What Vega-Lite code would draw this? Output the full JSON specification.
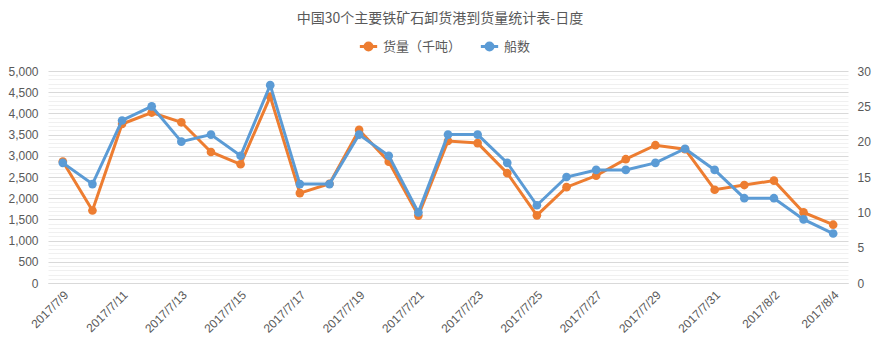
{
  "$schema": "https://vega.github.io/schema/vega-lite/v6.json",
  "autosize": "none",
  "width": 800,
  "height": 212,
  "padding": {"left": 48, "top": 71, "right": 36, "bottom": 70},
  "background": "white",
  "config": {
    "view": {"stroke": null},
    "font": "Noto Sans CJK SC",
    "axis": {"labelFont": "Liberation Sans", "labelFontSize": 12, "labelColor": "#595959"}
  },
  "title": {
    "text": "中国30个主要铁矿石卸货港到货量统计表-日度",
    "font": "Noto Sans CJK SC",
    "fontSize": 14,
    "fontWeight": "normal",
    "color": "#595959",
    "offset": 10,
    "dx": -8
  },
  "data": {
    "values": [
      {"date": "2017/7/9", "cargo": 2865, "ships": 17},
      {"date": "2017/7/10", "cargo": 1710, "ships": 14},
      {"date": "2017/7/11", "cargo": 3750, "ships": 23},
      {"date": "2017/7/12", "cargo": 4020, "ships": 25},
      {"date": "2017/7/13", "cargo": 3790, "ships": 20},
      {"date": "2017/7/14", "cargo": 3090, "ships": 21},
      {"date": "2017/7/15", "cargo": 2800, "ships": 18},
      {"date": "2017/7/16", "cargo": 4395, "ships": 28},
      {"date": "2017/7/17", "cargo": 2120, "ships": 14},
      {"date": "2017/7/18", "cargo": 2340, "ships": 14},
      {"date": "2017/7/19", "cargo": 3610, "ships": 21},
      {"date": "2017/7/20", "cargo": 2860, "ships": 18},
      {"date": "2017/7/21", "cargo": 1590, "ships": 10},
      {"date": "2017/7/22", "cargo": 3350, "ships": 21},
      {"date": "2017/7/23", "cargo": 3300, "ships": 21},
      {"date": "2017/7/24", "cargo": 2590, "ships": 17},
      {"date": "2017/7/25", "cargo": 1595, "ships": 11},
      {"date": "2017/7/26", "cargo": 2260, "ships": 15},
      {"date": "2017/7/27", "cargo": 2530, "ships": 16},
      {"date": "2017/7/28", "cargo": 2920, "ships": 16},
      {"date": "2017/7/29", "cargo": 3250, "ships": 17},
      {"date": "2017/7/30", "cargo": 3155, "ships": 19},
      {"date": "2017/7/31", "cargo": 2200, "ships": 16},
      {"date": "2017/8/1", "cargo": 2310, "ships": 12},
      {"date": "2017/8/2", "cargo": 2415, "ships": 12},
      {"date": "2017/8/3", "cargo": 1665, "ships": 9},
      {"date": "2017/8/4", "cargo": 1375, "ships": 7}
    ]
  },
  "encoding": {
    "x": {
      "field": "date",
      "type": "ordinal",
      "sort": null,
      "scale": {"type": "band", "paddingInner": 0, "paddingOuter": 0},
      "axis": {
        "title": null,
        "values": ["2017/7/9", "2017/7/11", "2017/7/13", "2017/7/15", "2017/7/17", "2017/7/19", "2017/7/21", "2017/7/23", "2017/7/25", "2017/7/27", "2017/7/29", "2017/7/31", "2017/8/2", "2017/8/4"],
        "labelAngle": -45,
        "labelPadding": 6,
        "ticks": false,
        "domain": true,
        "domainColor": "#d9d9d9",
        "grid": false
      }
    }
  },
  "layer": [
    {
      "mark": {"type": "line", "strokeWidth": 3, "point": {"filled": true, "size": 75, "opacity": 1}},
      "encoding": {
        "y": {
          "field": "cargo",
          "type": "quantitative",
          "scale": {"domain": [0, 5000], "nice": false},
          "axis": {
            "orient": "left",
            "title": null,
            "values": [0,100,200,300,400,500,600,700,800,900,1000,1100,1200,1300,1400,1500,1600,1700,1800,1900,2000,2100,2200,2300,2400,2500,2600,2700,2800,2900,3000,3100,3200,3300,3400,3500,3600,3700,3800,3900,4000,4100,4200,4300,4400,4500,4600,4700,4800,4900,5000],
            "labelExpr": "datum.value % 500 === 0 ? format(datum.value, ',') : ''",
            "labelOverlap": false,
            "labelPadding": 10,
            "ticks": false,
            "domain": false,
            "grid": true,
            "gridWidth": 1,
            "gridColor": {"condition": {"test": "datum.value % 500 === 0", "value": "#d9d9d9"}, "value": "#f0f0f0"}
          }
        },
        "color": {
          "datum": "货量（千吨）",
          "type": "nominal",
          "scale": {"domain": ["货量（千吨）", "船数"], "range": ["#ED7D31", "#5B9BD5"]},
          "legend": {
            "title": null,
            "orient": "none",
            "direction": "horizontal",
            "legendX": 310,
            "legendY": -35,
            "labelFont": "Noto Sans CJK SC",
            "labelFontSize": 13,
            "labelColor": "#595959",
            "symbolType": "M-1,0L1,0M-0.4,0A0.4,0.4 0 1,1 0.4,0A0.4,0.4 0 1,1 -0.4,0Z",
            "symbolSize": 300,
            "symbolStrokeWidth": 3,
            "columnPadding": 12,
            "labelOffset": 4,
            "encode": {"symbols": {"update": {"fill": {"scale": "color", "field": "value"}, "stroke": {"scale": "color", "field": "value"}, "opacity": {"value": 1}}}}
          }
        }
      }
    },
    {
      "mark": {"type": "line", "strokeWidth": 3, "point": {"filled": true, "size": 75, "opacity": 1}},
      "encoding": {
        "y": {
          "field": "ships",
          "type": "quantitative",
          "scale": {"domain": [0, 30], "nice": false},
          "axis": {
            "orient": "right",
            "title": null,
            "values": [0, 5, 10, 15, 20, 25, 30],
            "labelPadding": 9,
            "ticks": false,
            "domain": false,
            "grid": false
          }
        },
        "color": {"datum": "船数", "type": "nominal"}
      }
    }
  ],
  "resolve": {"scale": {"y": "independent"}}
}
